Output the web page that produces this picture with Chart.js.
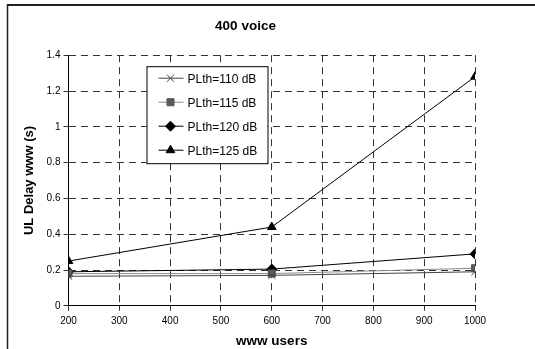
<!DOCTYPE html>
<html>
<head>
<meta charset="utf-8">
<script src="https://cdn.jsdelivr.net/npm/chart.js@4.4.0/dist/chart.umd.min.js"></script>
<style>
  html, body { margin: 0; padding: 0; background: #fff; }
  canvas { display: block; }
</style>
</head>
<body>
<canvas id="delayChart" width="535" height="349"></canvas>
<script>
// datos
const users = [200, 600, 1000];
const seriesNames = ['PLth=110 dB', 'PLth=115 dB', 'PLth=120 dB', 'PLth=125 dB'];
const delay110 = [0.165, 0.17, 0.19];
const delay115 = [0.18, 0.18, 0.21];
const delay120 = [0.19, 0.205, 0.29];
const delay125 = [0.25, 0.44, 1.28];
const xTicks = [200, 300, 400, 500, 600, 700, 800, 900, 1000];
const yTicks = [0, 0.2, 0.4, 0.6, 0.8, 1, 1.2, 1.4];

const FONT = '"Liberation Sans", Arial, sans-serif';

function points(vals) {
    return users.map((u, i) => ({ x: u, y: vals[i] }));
}

// marco de la figura original (solo arriba e izquierda)
const frame = {
    id: 'frame',
    beforeDraw(chart) {
        const ctx = chart.ctx;
        ctx.save();
        ctx.fillStyle = '#fff';
        ctx.fillRect(0, 0, chart.width, chart.height);
        ctx.strokeStyle = '#222';
        ctx.lineWidth = 2;
        ctx.beginPath();
        ctx.moveTo(7, 5);
        ctx.lineTo(chart.width, 5);
        ctx.stroke();
        ctx.lineWidth = 1.5;
        ctx.beginPath();
        ctx.moveTo(7.5, 4);
        ctx.lineTo(7.5, chart.height);
        ctx.stroke();
        ctx.restore();
    }
};

// leyenda con caja dentro del area del grafico
const legendBox = {
    id: 'legendBox',
    afterDraw(chart) {
        const ctx = chart.ctx;
        const area = chart.chartArea;
        const x = area.left + 78, y = area.top + 11, w = 121, h = 97;
        ctx.save();
        ctx.fillStyle = '#fff';
        ctx.fillRect(x, y, w, h);
        ctx.strokeStyle = '#000';
        ctx.lineWidth = 1;
        ctx.strokeRect(x + 0.5, y + 0.5, w, h);
        ctx.font = '12px ' + FONT;
        ctx.textBaseline = 'middle';
        chart.data.datasets.forEach((ds, i) => {
            const cy = y + 12 + i * 24;
            ctx.strokeStyle = ds.borderColor;
            ctx.lineWidth = 1;
            ctx.beginPath();
            ctx.moveTo(x + 12, cy);
            ctx.lineTo(x + 37, cy);
            ctx.stroke();
            ctx.fillStyle = ds.pointBackgroundColor;
            ctx.strokeStyle = ds.pointBorderColor;
            Chart.helpers.drawPoint(ctx, {
                pointStyle: ds.pointStyle,
                radius: ds.pointRadius,
                borderWidth: 1,
                rotation: 0
            }, x + 24, cy);
            ctx.fillStyle = '#000';
            ctx.fillText(ds.label, x + 41, cy + 1);
        });
        ctx.restore();
    }
};

const ctx1 = document.getElementById('delayChart').getContext('2d');
const delayChart = new Chart(ctx1, {
    type: 'line',
    data: {
        datasets: [
            {
                label: seriesNames[0],
                data: points(delay110),
                borderColor: '#444',
                borderWidth: 1,
                pointStyle: 'crossRot',
                pointRadius: 5,
                pointBackgroundColor: '#444',
                pointBorderColor: '#444',
                pointBorderWidth: 1
            },
            {
                label: seriesNames[1],
                data: points(delay115),
                borderColor: '#8a8a8a',
                borderWidth: 1,
                pointStyle: 'rect',
                pointRadius: 5,
                pointBackgroundColor: '#5a5a5a',
                pointBorderColor: '#5a5a5a',
                pointBorderWidth: 1
            },
            {
                label: seriesNames[2],
                data: points(delay120),
                borderColor: '#000',
                borderWidth: 1,
                pointStyle: 'rectRot',
                pointRadius: 5,
                pointBackgroundColor: '#000',
                pointBorderColor: '#000',
                pointBorderWidth: 1
            },
            {
                label: seriesNames[3],
                data: points(delay125),
                borderColor: '#000',
                borderWidth: 1,
                pointStyle: 'triangle',
                pointRadius: 5,
                pointBackgroundColor: '#000',
                pointBorderColor: '#000',
                pointBorderWidth: 1
            }
        ]
    },
    options: {
        responsive: false,
        animation: false,
        layout: {
            padding: { left: 16, right: 60, top: 0, bottom: 0 }
        },
        scales: {
            x: {
                type: 'linear',
                min: 200,
                max: 1000,
                afterBuildTicks: (scale) => { scale.ticks = xTicks.map(v => ({ value: v })); },
                ticks: {
                    color: '#000',
                    font: { family: FONT, size: 10 },
                    padding: 4,
                    maxRotation: 0,
                    callback: v => String(v)
                },
                grid: { color: '#333', lineWidth: 1, tickLength: 5 },
                border: { display: true, color: '#000', width: 1, dash: [7, 5] },
                title: {
                    display: true,
                    text: 'www users',
                    color: '#000',
                    font: { family: FONT, size: 13.5, weight: 'bold' },
                    padding: { top: 2, bottom: 0 }
                }
            },
            y: {
                min: 0,
                max: 1.4,
                afterBuildTicks: (scale) => { scale.ticks = yTicks.map(v => ({ value: v })); },
                ticks: {
                    color: '#000',
                    font: { family: FONT, size: 10 },
                    padding: 3,
                    callback: v => String(Math.round(v * 10) / 10)
                },
                grid: { color: '#333', lineWidth: 1, tickLength: 5 },
                border: { display: true, color: '#000', width: 1, dash: [7, 5] },
                title: {
                    display: true,
                    text: 'UL Delay www (s)',
                    color: '#000',
                    font: { family: FONT, size: 13, weight: 'bold' },
                    padding: { top: 6, bottom: 6 }
                }
            }
        },
        plugins: {
            legend: { display: false },
            tooltip: { enabled: false },
            title: {
                display: true,
                text: '400 voice',
                color: '#000',
                font: { family: FONT, size: 13.5, weight: 'bold' },
                padding: { top: 18, bottom: 21 }
            }
        }
    },
    plugins: [frame, legendBox]
});
</script>
</body>
</html>
